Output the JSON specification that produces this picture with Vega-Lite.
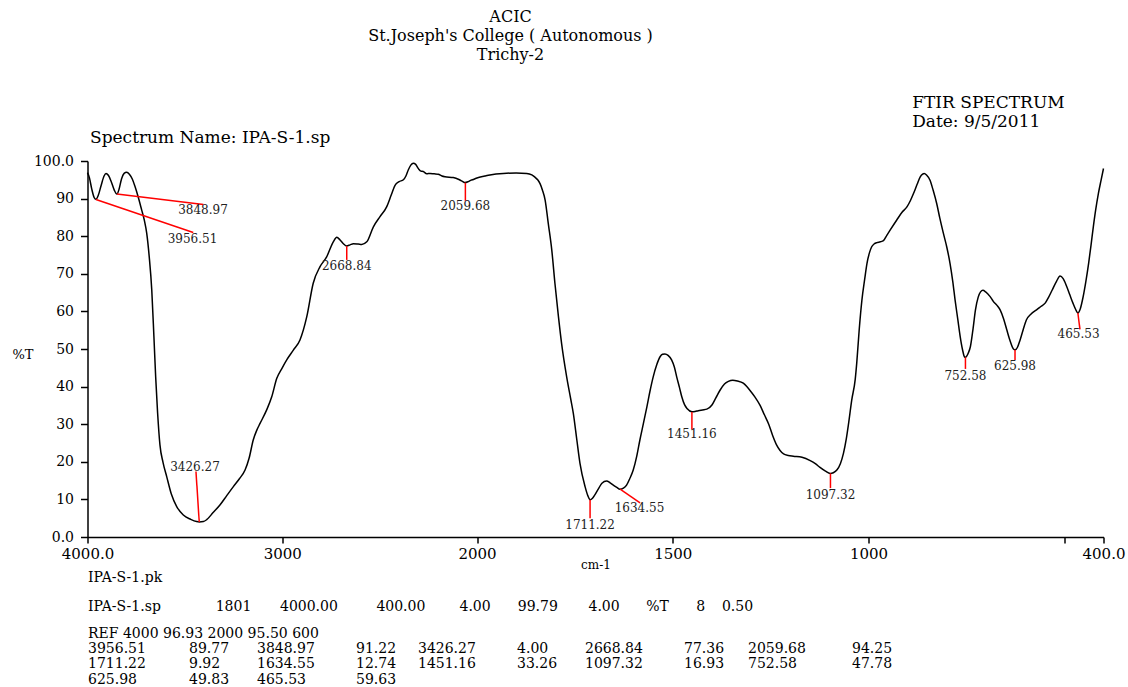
{
  "$schema": "https://vega.github.io/schema/vega-lite/v6.json",
  "width": 1016,
  "height": 376,
  "autosize": {"type": "none"},
  "padding": {"left": 87.5, "top": 161, "right": 24.5, "bottom": 150},
  "background": "white",
  "config": {
    "view": {"stroke": null},
    "font": "DejaVu Serif",
    "axis": {
      "labelFont": "DejaVu Serif",
      "titleFont": "DejaVu Serif",
      "labelColor": "black",
      "titleColor": "black",
      "domainColor": "black",
      "tickColor": "black",
      "domainWidth": 1.5,
      "tickWidth": 1.5,
      "grid": false,
      "titleFontWeight": "normal",
      "labelOverlap": false,
      "labelFlush": false
    },
    "axisY": {"labelOverlap": false},
    "axisQuantitative": {"labelOverlap": false}
  },
  "title": {
    "text": ["ACIC", "St.Joseph's College ( Autonomous )", "Trichy-2"],
    "anchor": "middle",
    "frame": "group",
    "dx": -85,
    "font": "DejaVu Serif",
    "fontSize": 16,
    "fontWeight": "normal",
    "color": "black",
    "lineHeight": 19,
    "offset": 31
  },
  "datasets": {
    "spectrum": [
      {"wn":4000,"t":96.9},{"wn":3990,"t":95.5},{"wn":3978,"t":92.5},{"wn":3966,"t":90.3},{"wn":3956.5,"t":89.8},{"wn":3945,"t":90.8},{"wn":3930,"t":93.5},{"wn":3915,"t":96.0},{"wn":3905,"t":96.7},{"wn":3893,"t":96.2},{"wn":3878,"t":94.5},{"wn":3862,"t":92.2},{"wn":3849,"t":91.2},{"wn":3838,"t":92.5},{"wn":3825,"t":95.3},{"wn":3812,"t":96.7},{"wn":3799,"t":97.0},{"wn":3785,"t":96.5},{"wn":3770,"t":95.2},{"wn":3756,"t":93.2},{"wn":3740,"t":90.5},{"wn":3722,"t":87.0},{"wn":3708,"t":84.2},{"wn":3696,"t":80.8},{"wn":3683,"t":74.5},{"wn":3670,"t":65.7},{"wn":3659,"t":53.3},{"wn":3650,"t":42.6},{"wn":3640,"t":33.0},{"wn":3628,"t":24.5},{"wn":3612,"t":19.8},{"wn":3593,"t":16.0},{"wn":3570,"t":11.5},{"wn":3542,"t":8.1},{"wn":3508,"t":5.85},{"wn":3470,"t":4.7},{"wn":3440,"t":4.1},{"wn":3426,"t":4.0},{"wn":3405,"t":4.1},{"wn":3388,"t":4.6},{"wn":3355,"t":6.5},{"wn":3320,"t":8.5},{"wn":3285,"t":11.0},{"wn":3251,"t":13.4},{"wn":3220,"t":15.5},{"wn":3191,"t":17.8},{"wn":3170,"t":21.0},{"wn":3149,"t":25.8},{"wn":3130,"t":28.5},{"wn":3114,"t":30.2},{"wn":3080,"t":33.8},{"wn":3054,"t":37.3},{"wn":3028,"t":42.2},{"wn":3000,"t":45.0},{"wn":2977,"t":47.1},{"wn":2943,"t":49.7},{"wn":2909,"t":52.4},{"wn":2874,"t":58.6},{"wn":2841,"t":67.5},{"wn":2806,"t":71.9},{"wn":2772,"t":74.5},{"wn":2738,"t":78.5},{"wn":2720,"t":79.7},{"wn":2703,"t":79.0},{"wn":2686,"t":78.0},{"wn":2669,"t":77.4},{"wn":2652,"t":77.7},{"wn":2635,"t":78.0},{"wn":2610,"t":77.9},{"wn":2592,"t":77.8},{"wn":2566,"t":78.5},{"wn":2532,"t":82.5},{"wn":2498,"t":85.2},{"wn":2464,"t":87.8},{"wn":2440,"t":91.0},{"wn":2421,"t":93.5},{"wn":2400,"t":94.5},{"wn":2378,"t":95.0},{"wn":2365,"t":96.0},{"wn":2353,"t":97.6},{"wn":2340,"t":98.9},{"wn":2327,"t":99.4},{"wn":2315,"t":99.1},{"wn":2300,"t":97.9},{"wn":2288,"t":97.3},{"wn":2276,"t":97.2},{"wn":2258,"t":96.6},{"wn":2241,"t":96.7},{"wn":2220,"t":96.6},{"wn":2199,"t":96.5},{"wn":2180,"t":96.0},{"wn":2164,"t":95.8},{"wn":2122,"t":95.6},{"wn":2090,"t":95.0},{"wn":2075,"t":94.6},{"wn":2062,"t":94.25},{"wn":2045,"t":94.5},{"wn":2030,"t":94.9},{"wn":2019,"t":95.1},{"wn":2000,"t":95.5},{"wn":1980,"t":96.0},{"wn":1967,"t":96.3},{"wn":1933,"t":96.7},{"wn":1900,"t":96.8},{"wn":1873,"t":96.7},{"wn":1860,"t":96.3},{"wn":1852,"t":95.7},{"wn":1845,"t":95.0},{"wn":1839,"t":94.0},{"wn":1833,"t":92.3},{"wn":1826,"t":89.6},{"wn":1818,"t":83.4},{"wn":1809,"t":76.3},{"wn":1801,"t":67.5},{"wn":1792,"t":58.6},{"wn":1784,"t":51.5},{"wn":1771,"t":42.6},{"wn":1761,"t":36.9},{"wn":1754,"t":32.9},{"wn":1745,"t":25.8},{"wn":1737,"t":19.6},{"wn":1724,"t":13.4},{"wn":1717,"t":11.0},{"wn":1711,"t":9.9},{"wn":1705,"t":10.3},{"wn":1699,"t":11.2},{"wn":1690,"t":12.8},{"wn":1681,"t":14.3},{"wn":1669,"t":14.9},{"wn":1660,"t":14.4},{"wn":1652,"t":13.8},{"wn":1643,"t":13.2},{"wn":1635,"t":12.7},{"wn":1626,"t":13.0},{"wn":1618,"t":13.8},{"wn":1610,"t":15.5},{"wn":1601,"t":17.8},{"wn":1592,"t":21.5},{"wn":1584,"t":25.8},{"wn":1575,"t":30.2},{"wn":1566,"t":34.7},{"wn":1558,"t":38.9},{"wn":1550,"t":42.6},{"wn":1541,"t":45.8},{"wn":1532,"t":48.0},{"wn":1526,"t":48.6},{"wn":1520,"t":48.7},{"wn":1512,"t":48.3},{"wn":1503,"t":47.1},{"wn":1496,"t":45.2},{"wn":1490,"t":42.6},{"wn":1483,"t":39.8},{"wn":1477,"t":37.3},{"wn":1470,"t":35.2},{"wn":1463,"t":34.1},{"wn":1451,"t":33.3},{"wn":1443,"t":33.4},{"wn":1435,"t":33.6},{"wn":1424,"t":33.8},{"wn":1413,"t":34.0},{"wn":1400,"t":35.1},{"wn":1390,"t":37.0},{"wn":1379,"t":39.1},{"wn":1368,"t":40.7},{"wn":1358,"t":41.4},{"wn":1347,"t":41.7},{"wn":1335,"t":41.5},{"wn":1320,"t":40.9},{"wn":1311,"t":40.0},{"wn":1300,"t":38.6},{"wn":1290,"t":37.2},{"wn":1277,"t":35.0},{"wn":1266,"t":32.5},{"wn":1255,"t":30.0},{"wn":1245,"t":27.0},{"wn":1235,"t":24.5},{"wn":1226,"t":23.0},{"wn":1217,"t":22.1},{"wn":1205,"t":21.7},{"wn":1192,"t":21.5},{"wn":1170,"t":21.2},{"wn":1149,"t":20.3},{"wn":1136,"t":19.5},{"wn":1124,"t":18.5},{"wn":1110,"t":17.5},{"wn":1098,"t":16.9},{"wn":1090,"t":17.1},{"wn":1081,"t":17.8},{"wn":1072,"t":19.5},{"wn":1064,"t":22.3},{"wn":1057,"t":26.0},{"wn":1051,"t":30.2},{"wn":1043,"t":36.4},{"wn":1034,"t":42.0},{"wn":1030,"t":46.5},{"wn":1024,"t":55.0},{"wn":1017,"t":63.0},{"wn":1010,"t":68.5},{"wn":1004,"t":72.8},{"wn":998,"t":75.5},{"wn":992,"t":77.2},{"wn":985,"t":78.0},{"wn":979,"t":78.3},{"wn":970,"t":78.5},{"wn":962,"t":78.8},{"wn":953,"t":80.3},{"wn":945,"t":81.6},{"wn":928,"t":84.3},{"wn":915,"t":86.3},{"wn":902,"t":87.8},{"wn":893,"t":89.5},{"wn":885,"t":91.4},{"wn":876,"t":93.8},{"wn":868,"t":95.8},{"wn":862,"t":96.5},{"wn":858,"t":96.7},{"wn":852,"t":96.3},{"wn":843,"t":94.9},{"wn":835,"t":92.2},{"wn":826,"t":88.7},{"wn":818,"t":84.8},{"wn":809,"t":80.8},{"wn":800,"t":77.0},{"wn":792,"t":72.8},{"wn":785,"t":68.0},{"wn":779,"t":63.0},{"wn":772,"t":57.8},{"wn":766,"t":53.3},{"wn":760,"t":49.8},{"wn":755,"t":47.9},{"wn":753,"t":47.8},{"wn":750,"t":48.0},{"wn":745,"t":49.0},{"wn":740,"t":50.6},{"wn":733,"t":55.5},{"wn":727,"t":60.4},{"wn":720,"t":63.8},{"wn":714,"t":65.2},{"wn":708,"t":65.6},{"wn":701,"t":65.2},{"wn":690,"t":64.0},{"wn":681,"t":62.6},{"wn":672,"t":61.6},{"wn":664,"t":60.4},{"wn":655,"t":58.0},{"wn":647,"t":55.1},{"wn":638,"t":52.0},{"wn":630,"t":50.0},{"wn":626,"t":49.8},{"wn":620,"t":50.4},{"wn":613,"t":52.4},{"wn":605,"t":55.2},{"wn":597,"t":57.7},{"wn":585,"t":59.3},{"wn":571,"t":60.4},{"wn":560,"t":61.3},{"wn":549,"t":62.2},{"wn":540,"t":63.8},{"wn":531,"t":65.7},{"wn":520,"t":68.0},{"wn":511,"t":69.4},{"wn":503,"t":68.7},{"wn":494,"t":66.6},{"wn":486,"t":64.4},{"wn":478,"t":62.2},{"wn":471,"t":60.5},{"wn":465.5,"t":59.6},{"wn":459,"t":60.8},{"wn":452,"t":63.9},{"wn":445,"t":68.0},{"wn":438,"t":72.8},{"wn":432,"t":77.5},{"wn":426,"t":82.5},{"wn":420,"t":87.0},{"wn":413,"t":91.4},{"wn":406,"t":95.0},{"wn":400,"t":98.0}
    ],
    "peaks": [
      {"wn":3956.51,"t":89.77,"wn2":3457,"t2":81.0,"lwn":3461,"lt":79.3,"label":"3956.51"},
      {"wn":3848.97,"t":91.22,"wn2":3405,"t2":88.4,"lwn":3407,"lt":87.0,"label":"3848.97"},
      {"wn":3426.27,"t":4.0,"wn2":3443,"t2":17.4,"lwn":3448,"lt":18.6,"label":"3426.27"},
      {"wn":2668.84,"t":77.36,"wn2":2668.84,"t2":73.7,"lwn":2669,"lt":72.1,"label":"2668.84"},
      {"wn":2059.68,"t":94.25,"wn2":2059.68,"t2":89.4,"lwn":2059.68,"lt":88.0,"label":"2059.68"},
      {"wn":1711.22,"t":9.92,"wn2":1711.22,"t2":5.0,"lwn":1711.22,"lt":3.2,"label":"1711.22"},
      {"wn":1634.55,"t":12.74,"wn2":1583.5,"t2":9.1,"lwn":1585,"lt":7.6,"label":"1634.55"},
      {"wn":1451.16,"t":33.26,"wn2":1451.16,"t2":28.6,"lwn":1451.16,"lt":27.3,"label":"1451.16"},
      {"wn":1097.32,"t":16.93,"wn2":1097.32,"t2":13.0,"lwn":1097.32,"lt":11.2,"label":"1097.32"},
      {"wn":752.58,"t":47.78,"wn2":752.58,"t2":44.7,"lwn":752.58,"lt":42.8,"label":"752.58"},
      {"wn":625.98,"t":49.83,"wn2":625.98,"t2":47.1,"lwn":625.98,"lt":45.5,"label":"625.98"},
      {"wn":465.53,"t":59.63,"wn2":460.1,"t2":55.2,"lwn":463.6,"lt":53.9,"label":"465.53"}
    ],
    "header": [
      {"wn":888.6,"t":115.4,"text":"FTIR SPECTRUM"},
      {"wn":888.6,"t":110.4,"text":"Date: 9/5/2011"},
      {"wn":3987,"t":106.1,"text":"Spectrum Name: IPA-S-1.sp"}
    ],
    "footer": [
      {"wn":3997.4,"t":-10.9,"text":"IPA-S-1.pk"},
      {"wn":3997.4,"t":-18.6,"text":"IPA-S-1.sp"},
      {"wn":3341.7,"t":-18.6,"text":"1801"},
      {"wn":3011.6,"t":-18.6,"text":"4000.00"},
      {"wn":2516.6,"t":-18.6,"text":"400.00"},
      {"wn":2089.9,"t":-18.6,"text":"4.00"},
      {"wn":1895.8,"t":-18.6,"text":"99.79"},
      {"wn":1715.2,"t":-18.6,"text":"4.00"},
      {"wn":1567.6,"t":-18.6,"text":"%T"},
      {"wn":1440.2,"t":-18.6,"text":"8"},
      {"wn":1374.5,"t":-18.6,"text":"0.50"},
      {"wn":3997.4,"t":-25.9,"text":"REF 4000 96.93 2000 95.50 600"},
      {"wn":3997.4,"t":-29.9,"text":"3956.51"},
      {"wn":3478.8,"t":-29.9,"text":"89.77"},
      {"wn":3129.7,"t":-29.9,"text":"3848.97"},
      {"wn":2621.3,"t":-29.9,"text":"91.22"},
      {"wn":2303,"t":-29.9,"text":"3426.27"},
      {"wn":1897.8,"t":-29.9,"text":"4.00"},
      {"wn":1724.2,"t":-29.9,"text":"2668.84"},
      {"wn":1471.3,"t":-29.9,"text":"77.36"},
      {"wn":1307.9,"t":-29.9,"text":"2059.68"},
      {"wn":1042.3,"t":-29.9,"text":"94.25"},
      {"wn":3997.4,"t":-33.9,"text":"1711.22"},
      {"wn":3478.8,"t":-33.9,"text":"9.92"},
      {"wn":3129.7,"t":-33.9,"text":"1634.55"},
      {"wn":2621.3,"t":-33.9,"text":"12.74"},
      {"wn":2303,"t":-33.9,"text":"1451.16"},
      {"wn":1897.8,"t":-33.9,"text":"33.26"},
      {"wn":1724.2,"t":-33.9,"text":"1097.32"},
      {"wn":1471.3,"t":-33.9,"text":"16.93"},
      {"wn":1307.9,"t":-33.9,"text":"752.58"},
      {"wn":1042.3,"t":-33.9,"text":"47.78"},
      {"wn":3997.4,"t":-37.9,"text":"625.98"},
      {"wn":3478.8,"t":-37.9,"text":"49.83"},
      {"wn":3129.7,"t":-37.9,"text":"465.53"},
      {"wn":2621.3,"t":-37.9,"text":"59.63"}
    ]
  },
  "layer": [
    {
      "data": {"name": "spectrum"},
      "mark": {"type": "line", "color": "black", "strokeWidth": 1.5, "interpolate": "monotone"},
      "encoding": {
        "x": {
          "field": "wn", "type": "quantitative",
          "scale": {"domain": [4000, 2000, 400], "range": [0, 389.5, 1016], "nice": false, "zero": false},
          "axis": {
            "values": [4000, 3000, 2000, 1500, 1000, 500, 400],
            "labelExpr": "datum.value == 500 ? '' : datum.value == 4000 ? '4000.0' : datum.value == 400 ? '400.0' : datum.value",
            "title": "cm-1",
            "titleFontSize": 12,
            "titlePadding": -2,
            "labelFontSize": 15,
            "labelPadding": 3,
            "labelOverlap": false,
            "tickSize": 6
          }
        },
        "y": {
          "field": "t", "type": "quantitative",
          "scale": {"domain": [0, 100], "nice": false, "zero": false},
          "axis": {
            "tickCount": 10,
            "labelExpr": "datum.value == 100 ? '100.0' : datum.value == 0 ? '0.0' : datum.value",
            "labelOverlap": false,
            "title": "%T",
            "titleAngle": 0,
            "titleX": -65,
            "titleY": 193,
            "titleAlign": "center",
            "titleBaseline": "middle",
            "titleFontSize": 13,
            "labelFontSize": 14,
            "labelPadding": 7,
            "tickSize": 7
          }
        },
        "order": {"field": "wn", "sort": "descending"}
      }
    },
    {
      "data": {"name": "peaks"},
      "mark": {"type": "rule", "color": "#ff0000", "strokeWidth": 1.5},
      "encoding": {
        "x": {"field": "wn", "type": "quantitative"},
        "y": {"field": "t", "type": "quantitative"},
        "x2": {"field": "wn2"},
        "y2": {"field": "t2"}
      }
    },
    {
      "data": {"name": "peaks"},
      "mark": {"type": "text", "font": "DejaVu Serif", "fontSize": 12, "color": "#222222", "align": "center", "baseline": "middle"},
      "encoding": {
        "x": {"field": "lwn", "type": "quantitative"},
        "y": {"field": "lt", "type": "quantitative"},
        "text": {"field": "label"}
      }
    },
    {
      "data": {"name": "header"},
      "mark": {"type": "text", "font": "DejaVu Serif", "fontSize": 17, "color": "black", "align": "left", "baseline": "middle"},
      "encoding": {
        "x": {"field": "wn", "type": "quantitative"},
        "y": {"field": "t", "type": "quantitative"},
        "text": {"field": "text"}
      }
    },
    {
      "data": {"name": "footer"},
      "mark": {"type": "text", "font": "DejaVu Serif", "fontSize": 14, "color": "black", "align": "left", "baseline": "middle"},
      "encoding": {
        "x": {"field": "wn", "type": "quantitative"},
        "y": {"field": "t", "type": "quantitative"},
        "text": {"field": "text"}
      }
    }
  ]
}
